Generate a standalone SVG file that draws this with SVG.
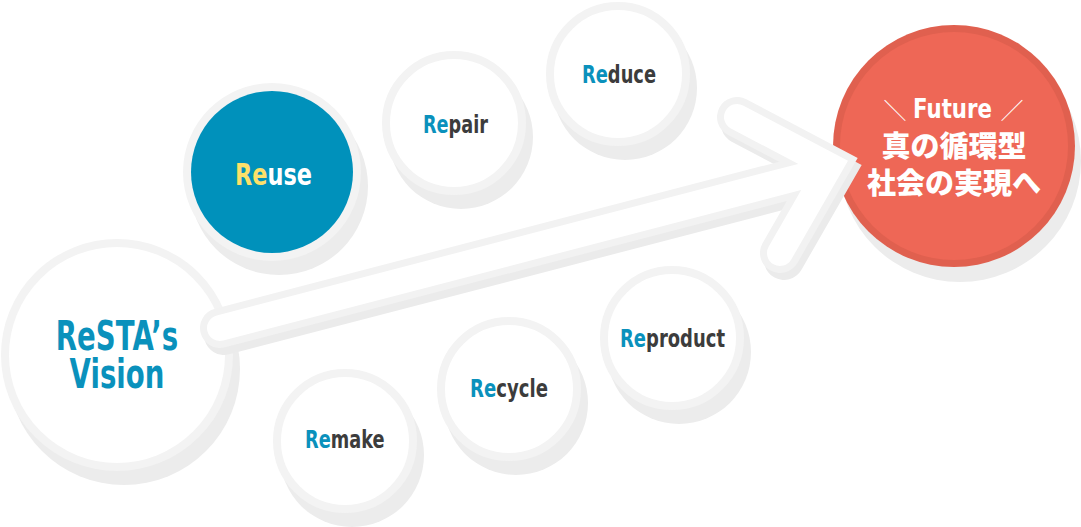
<svg xmlns="http://www.w3.org/2000/svg" width="1081" height="527" viewBox="0 0 1081 527">
<style>
.shadow{fill:#ececec}
.ring{fill:#ffffff;stroke:#f3f3f3;stroke-width:8}
.lbl{font-family:"DejaVu Sans",sans-serif;font-weight:bold}
.re{fill:#0a91bc}
.rest{fill:#3c3c3c}
.jp{font-family:"Noto Sans CJK JP",sans-serif;font-weight:900;fill:#ffffff;text-anchor:middle}
.sl{font-family:"Noto Sans CJK JP",sans-serif;font-weight:300;fill:#ffffff;text-anchor:middle}
</style>
<rect width="1081" height="527" fill="#ffffff"/>

<g id="node-vision">
  <circle class="shadow" cx="124" cy="369" r="116"/>
  <circle class="ring" cx="117" cy="355" r="112"/>
  <text class="lbl re" font-size="40" text-anchor="middle" transform="translate(117,0) scale(0.69,1)"><tspan x="0" y="350">ReSTA’s</tspan><tspan x="0" y="388">Vision</tspan></text>
</g>

<g id="node-reuse">
  <circle class="shadow" cx="279" cy="186" r="89"/>
  <circle cx="272" cy="172" r="89" fill="#f3f3f3"/>
  <circle cx="272" cy="172" r="81" fill="#0091bb"/>
  <text class="lbl" font-size="31" transform="translate(235,185) scale(0.724,1)"><tspan fill="#fde06a">Re</tspan><tspan fill="#ffffff">use</tspan></text>
</g>

<g id="node-repair">
  <circle class="shadow" cx="461" cy="137" r="72"/>
  <circle class="ring" cx="454" cy="123" r="68"/>
  <text class="lbl" font-size="25" transform="translate(423,133) scale(0.707,1)"><tspan class="re">Re</tspan><tspan class="rest">pair</tspan></text>
</g>

<g id="node-reduce">
  <circle class="shadow" cx="625" cy="88" r="72"/>
  <circle class="ring" cx="618" cy="74" r="68"/>
  <text class="lbl" font-size="25" transform="translate(582,83) scale(0.714,1)"><tspan class="re">Re</tspan><tspan class="rest">duce</tspan></text>
</g>

<g id="node-remake">
  <circle class="shadow" cx="352" cy="455" r="72"/>
  <circle class="ring" cx="345" cy="441" r="68"/>
  <text class="lbl" font-size="25" transform="translate(305,448) scale(0.71,1)"><tspan class="re">Re</tspan><tspan class="rest">make</tspan></text>
</g>

<g id="node-recycle">
  <circle class="shadow" cx="516" cy="403" r="72"/>
  <circle class="ring" cx="509" cy="389" r="68"/>
  <text class="lbl" font-size="25" transform="translate(470,397) scale(0.724,1)"><tspan class="re">Re</tspan><tspan class="rest">cycle</tspan></text>
</g>

<g id="node-reproduct">
  <circle class="shadow" cx="679" cy="352" r="72"/>
  <circle class="ring" cx="672" cy="338" r="68"/>
  <text class="lbl" font-size="25" transform="translate(620,347) scale(0.719,1)"><tspan class="re">Re</tspan><tspan class="rest">product</tspan></text>
</g>

<g id="node-future">
  <circle class="shadow" cx="960" cy="161" r="121"/>
  <circle cx="954" cy="146" r="121" fill="#e0604f"/>
  <circle cx="954" cy="146" r="114" fill="#ee6756"/>
  <text class="sl" x="895" y="119" font-size="23">＼</text>
  <text class="sl" x="1012" y="119" font-size="23">／</text>
  <text class="lbl" font-size="27" fill="#ffffff" transform="translate(913,118) scale(0.789,1)">Future</text>
  <text class="jp" font-size="29"><tspan x="954" y="157">真の循環型</tspan><tspan x="954" y="194">社会の実現へ</tspan></text>
</g>

<g id="connectors" fill="none" stroke-linecap="round" stroke-linejoin="miter">
  <path d="M220,328 L815,173 M737,117 L830,166 L780,253" stroke="#ebebeb" stroke-width="40" transform="translate(4,7)"/>
  <path d="M220,328 L815,173 M737,117 L830,166 L780,253" stroke="#f2f2f2" stroke-width="40"/>
  <path d="M220,328 L815,173 M737,117 L830,166 L780,253" stroke="#ffffff" stroke-width="26"/>
</g>
</svg>
